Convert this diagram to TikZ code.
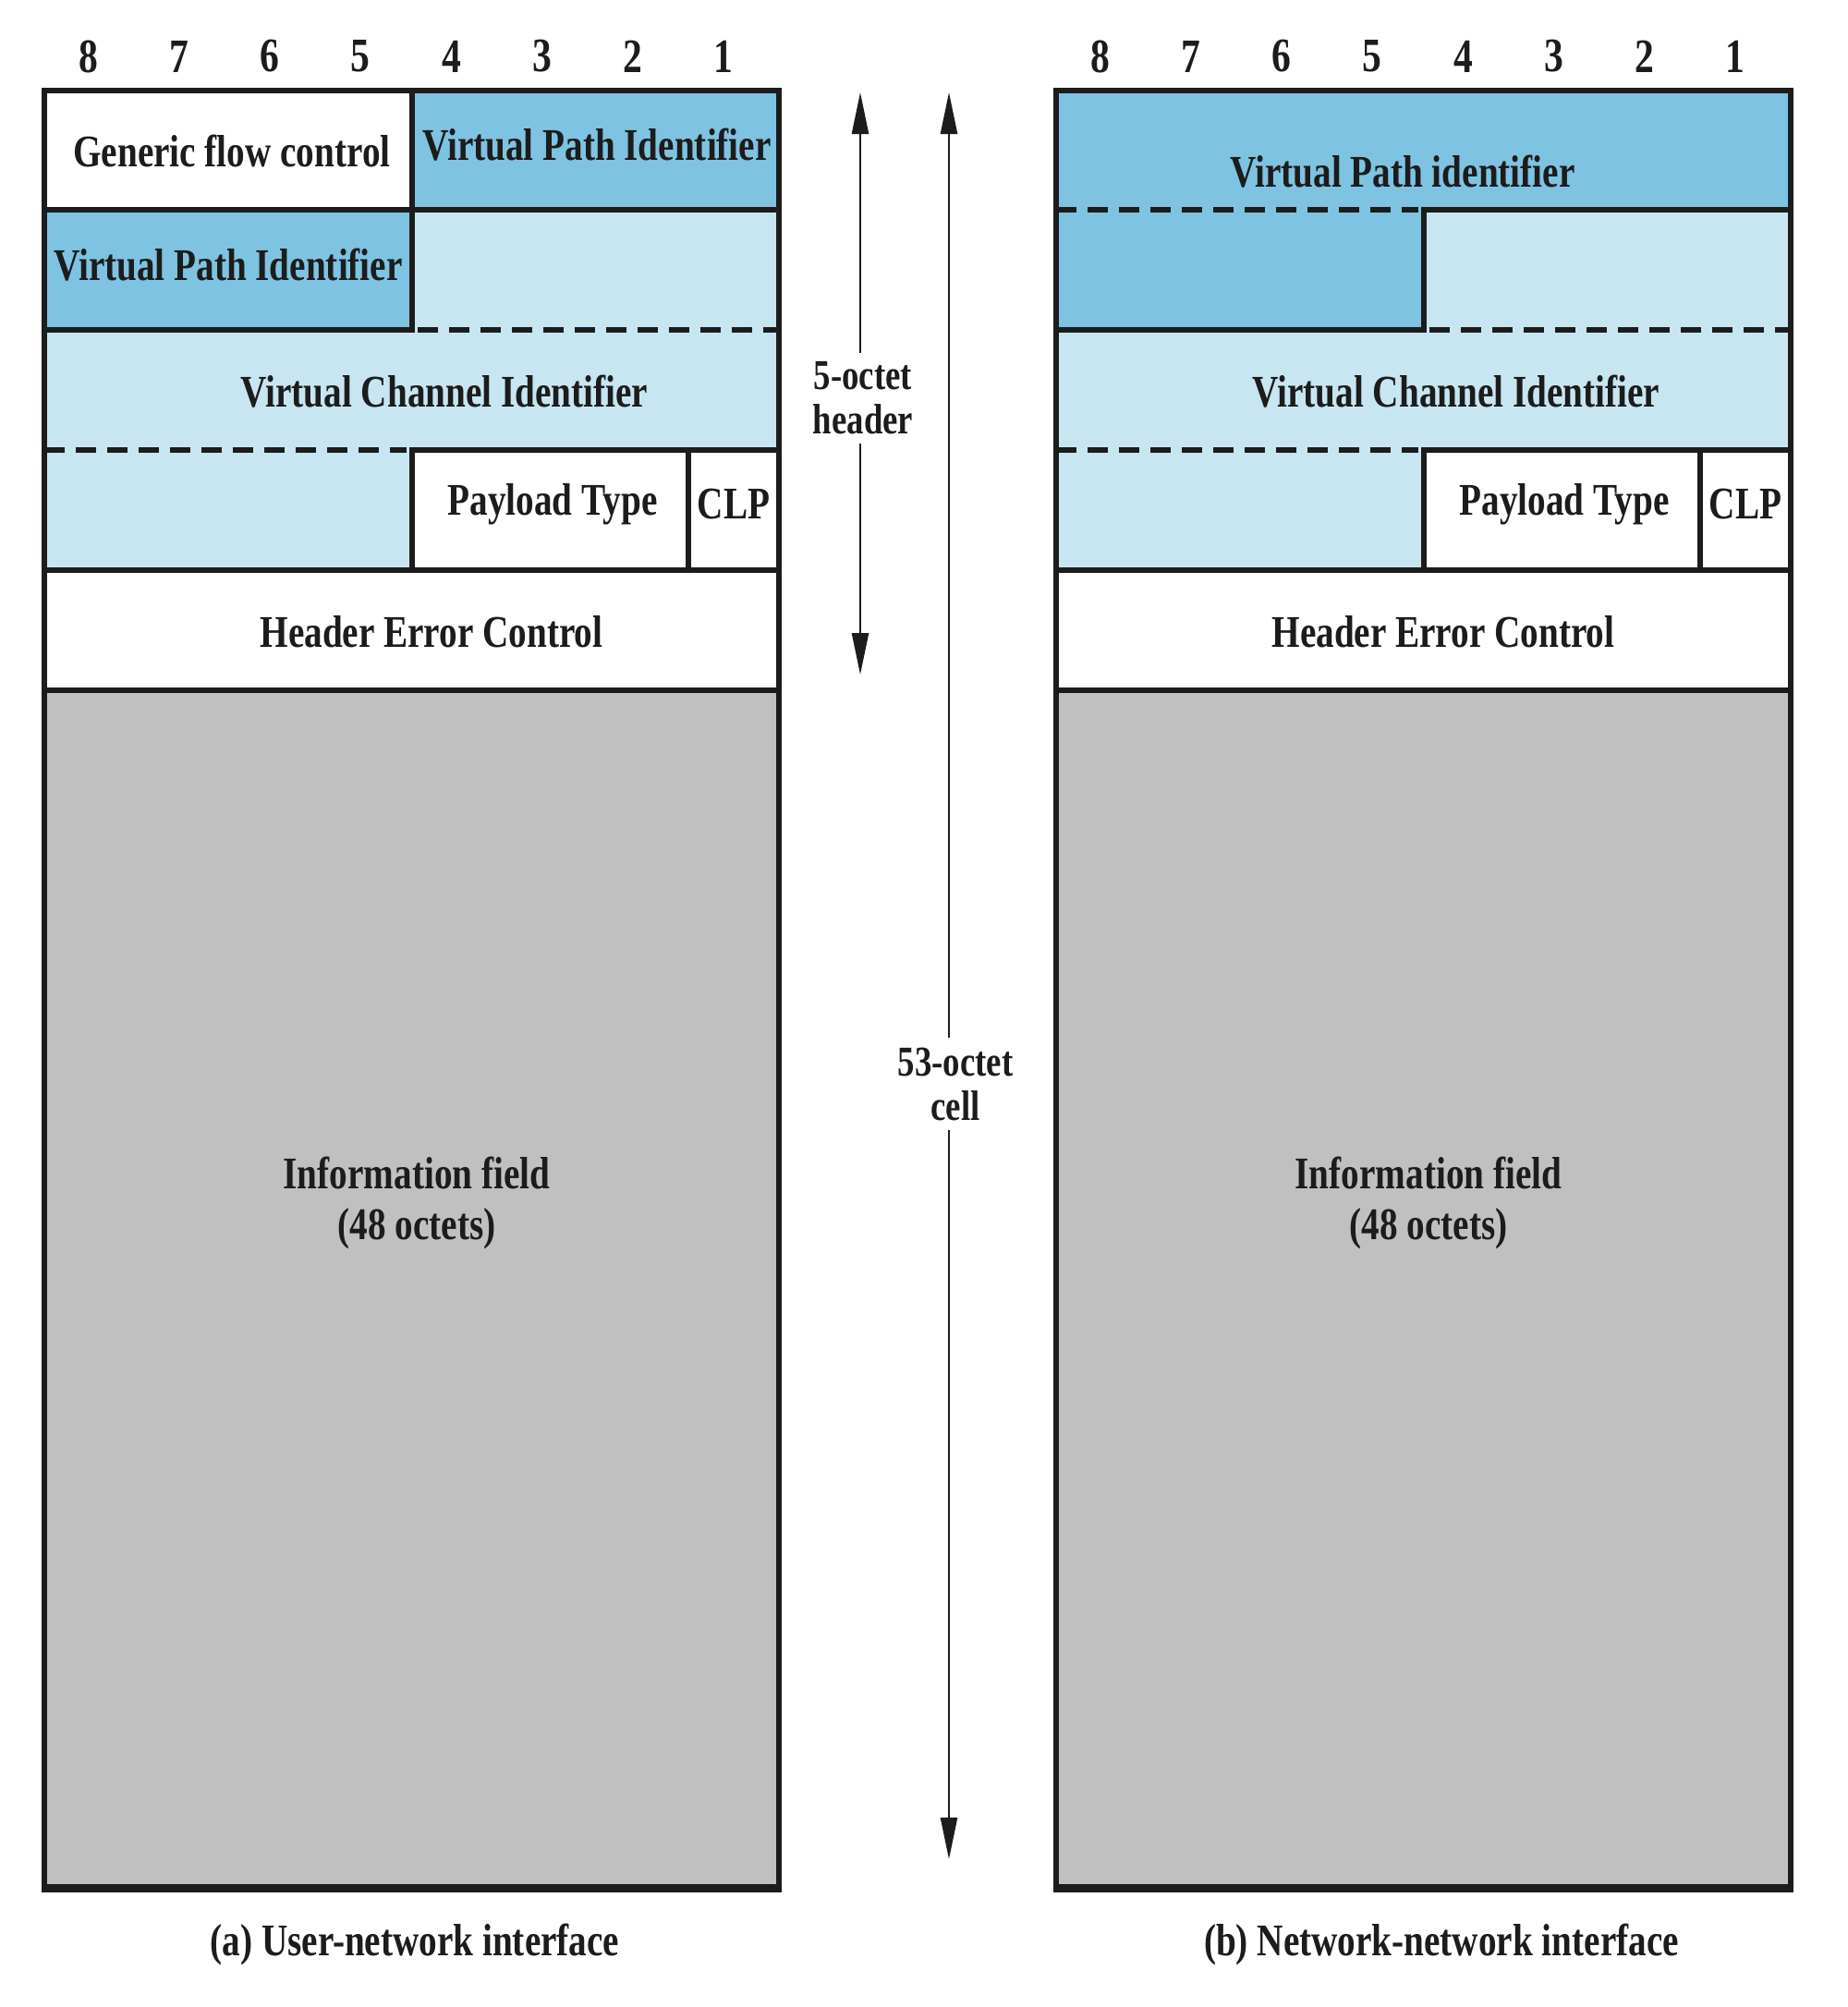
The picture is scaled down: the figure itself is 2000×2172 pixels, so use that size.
\documentclass[tikz,border=0pt]{standalone}
\usepackage{fontspec}
\setmainfont{Liberation Serif}[FakeStretch=0.8]
\usetikzlibrary{arrows.meta}
\definecolor{vpblue}{HTML}{7EC3E2}
\definecolor{lblue}{HTML}{C8E6F2}
\definecolor{infogray}{HTML}{C0C0C0}
\definecolor{ink}{HTML}{1C1C1C}
\tikzset{
  lbl/.style={font=\fontsize{49}{54}\selectfont\bfseries, text=ink, inner sep=0pt, align=center},
  rule/.style={line width=6pt, draw=ink, line cap=rect},
  dashrule/.style={line width=6pt, draw=ink, dash pattern=on 22pt off 12pt},
  dimarrow/.style={line width=2.5pt, draw=ink, -{Triangle[length=45pt,width=18pt]}},
}
\newcommand\atmcommon{%
  \fill[lblue] (0,227) rectangle (795,487);
  \fill[white] (0,487) rectangle (795,747);
  \fill[lblue] (0,487) rectangle (398,617);
  \fill[vpblue] (0,227) rectangle (398,357);
  \fill[infogray] (0,747) rectangle (795,2045);
  % row 2 lines
  \draw[rule] (398,227) -- (398,357);
  \draw[rule] (0,357) -- (398,357);
  \draw[dashrule] (404,357) -- (795,357);
  % row 3 bottom
  \draw[dashrule] (0,487) -- (392,487);
  \draw[rule] (398,487) -- (795,487);
  % row 4
  \draw[rule] (398,487) -- (398,617);
  \draw[rule] (697,487) -- (697,617);
  \draw[rule] (0,617) -- (795,617);
  \draw[rule] (0,747) -- (795,747);
  % bit numbers
  \foreach \b [count=\i from 0] in {8,7,6,5,4,3,2,1}
    \node[lbl, font=\fontsize{52}{54}\selectfont\bfseries] (bit\b) at ({48+98.1*\i},61) {\b};
  % texts
  \node[lbl] (vci) at (433,424) {Virtual Channel Identifier};
  \node[lbl] (pt) at (550,546) {Payload Type};
  \node[lbl] (clp) at (746,546) {CLP};
  \node[lbl] (hec) at (419,684) {Header Error Control};
  \node[lbl, font=\fontsize{49}{55}\selectfont\bfseries] (info) at (403,1302) {Information field\\(48 octets)};
}
\begin{document}
\begin{tikzpicture}[x=1pt,y=-1pt]
\useasboundingbox[fill=white] (0,0) rectangle (2000,2172);

% (a) user-network interface
\begin{scope}[xshift=48pt, name prefix=a-]
  \fill[white] (0,98) rectangle (398,227);
  \fill[vpblue] (398,98) rectangle (795,227);
  \atmcommon
  \draw[rule] (398,98) -- (398,227);
  \draw[rule] (0,227) -- (795,227);
  \draw[rule] (0,98) rectangle (795,2045);
  \draw[line width=9pt, draw=ink] (0,2043) -- (795,2043);
  \node[lbl] (gfc) at (203,163) {Generic flow control};
  \node[lbl] (vpi1) at (598,157) {Virtual Path Identifier};
  \node[lbl] (vpi2) at (199,287) {Virtual Path Identifier};
\end{scope}

% (b) network-network interface
\begin{scope}[xshift=1143pt, name prefix=b-]
  \fill[vpblue] (0,98) rectangle (795,227);
  \atmcommon
  \draw[dashrule] (0,227) -- (392,227);
  \draw[rule] (398,227) -- (795,227);
  \draw[rule] (0,98) rectangle (795,2045);
  \draw[line width=9pt, draw=ink] (0,2043) -- (795,2043);
  \node[lbl] (vpi) at (375,186) {Virtual Path identifier};
\end{scope}

% dimension arrows
\coordinate (t5) at (931,100);
\coordinate (b5) at (931,730);
\node[lbl, inner sep=10pt, font=\fontsize{46}{48}\selectfont\bfseries] (oct5) at (934,431) {5-octet\\header};
\draw[dimarrow] (oct5.north -| t5) -- (t5);
\draw[dimarrow] (oct5.south -| b5) -- (b5);

\coordinate (t53) at (1027,100);
\coordinate (b53) at (1027,2012);
\node[lbl, inner sep=10pt, font=\fontsize{46}{48}\selectfont\bfseries] (oct53) at (1034,1173) {53-octet\\cell};
\draw[dimarrow] (oct53.north -| t53) -- (t53);
\draw[dimarrow] (oct53.south -| b53) -- (b53);

% captions
\node[lbl] (capa) at (449,2104) {(a) User-network interface};
\node[lbl] (capb) at (1560,2104) {(b) Network-network interface};
\end{tikzpicture}
\end{document}
